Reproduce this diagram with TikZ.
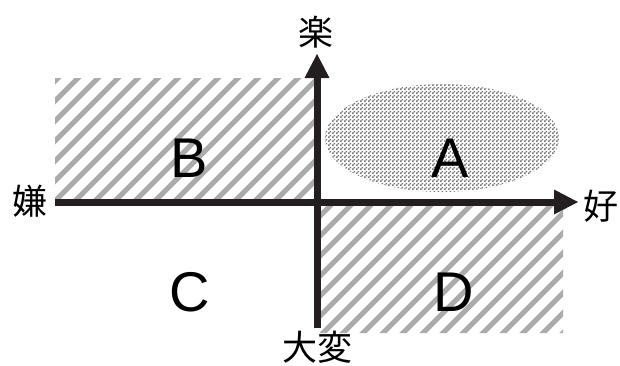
\documentclass[tikz,border=0pt]{standalone}
\usepackage{fontspec}
\setmainfont{Liberation Sans}
\newfontfamily\jpfont{Noto Sans CJK JP}
\usepackage{tikz}
\usetikzlibrary{arrows.meta,positioning,patterns.meta}
\usepackage{xcolor}
\definecolor{axisink}{HTML}{231F20}
\definecolor{hatchgray}{HTML}{ABABAB}
\definecolor{dotgray}{HTML}{777777}
\tikzdeclarepattern{
  name=checkdots,
  type=uncolored,
  bounding box={(0pt,0pt) and (4pt,4pt)},
  tile size={(4pt,4pt)},
  code={
    \pgfpathrectangle{\pgfpoint{0pt}{0pt}}{\pgfpoint{2pt}{2pt}}
    \pgfpathrectangle{\pgfpoint{2pt}{2pt}}{\pgfpoint{2pt}{2pt}}
    \pgfusepath{fill}
  }
}
\tikzset{
  axis/.style      = {line width=7pt, axisink,
                      -{Triangle[length=24pt,width=25pt,line width=0pt]}},
  hatchline/.style = {line width=5pt, hatchgray},
  zone/.style      = {inner sep=0pt, font=\fontsize{56}{56}\selectfont},
  pole/.style      = {inner sep=0pt, font=\jpfont\fontsize{35}{35}\selectfont},
}

\begin{document}
\begin{tikzpicture}[x=1pt, y=-1pt]
\useasboundingbox (0,0) rectangle (620,365);
% ---- hatched quadrants ----
\begin{scope}
  \clip (55,78) rectangle (317,202) (320,205) rectangle (563,333);
  \foreach \c in {116,136,...,916}
    \draw[hatchline] (\c,0) -- ++(-400,400);
\end{scope}
% ---- the ideal zone ----
\fill[pattern={checkdots}, pattern color=dotgray] (442,138) ellipse[x radius=117, y radius=54];
% ---- axes ----
\coordinate (west)  at (55,202);
\coordinate (east)  at (578,202);
\coordinate (south) at (317,328);
\coordinate (north) at (317,54);
\draw[axis] (west) -- (east);
\draw[axis] (south) -- (north);
% ---- labels ----
\node[pole] (up)    at (316,32)  {楽};
\node[pole] (down)  at (317,347) {大変};
\node[pole] (left)  at (30,201)  {嫌};
\node[pole] (right) at (601,206) {好};
\node[zone] (A) at (450,158) {A};
\node[zone] (B) at (189,158) {B};
\node[zone] (C) at (190,292) {C};
\node[zone] (D) at (454,292) {D};
\end{tikzpicture}
\end{document}
